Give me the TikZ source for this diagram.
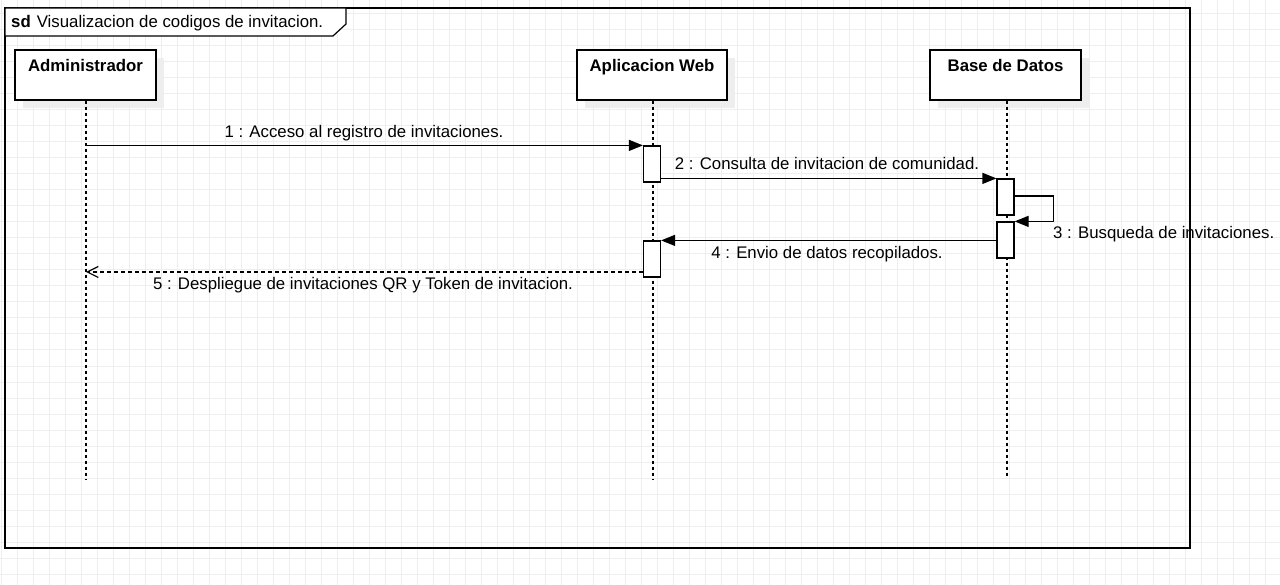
\documentclass[tikz,border=0pt]{standalone}
\usepackage{fontspec}
\setmainfont{Liberation Sans}
\usetikzlibrary{arrows.meta,shadows}
\definecolor{gridc}{HTML}{EEEEEE}
\definecolor{shadowc}{HTML}{EEEEEE}
\tikzset{
  actorbox/.style={draw, line width=1.2pt, fill=white, minimum height=50pt, inner sep=0pt,
    drop shadow={shadow xshift=8pt, shadow yshift=-8pt, fill=shadowc, opacity=1}},
  actortxt/.style={font=\fontsize{16.8}{20}\selectfont\bfseries, inner sep=0pt, anchor=base},
  actbar/.style={draw, line width=1.2pt, fill=white, minimum width=17pt, inner sep=0pt},
  lifeln/.style={line width=1.2pt, dash pattern=on 3pt off 3pt},
  msgline/.style={line width=1.2pt, -{Triangle[length=14pt,width=11pt]}},
  retline/.style={line width=1.2pt, dash pattern=on 4pt off 3pt, -{Straight Barb[length=11pt,width=11pt]}},
  msgtxt/.style={font=\fontsize{16.8}{20}\selectfont, inner sep=0pt, anchor=base},
}
\begin{document}
\begin{tikzpicture}[x=1pt,y=-1pt]
\useasboundingbox (0,0) rectangle (1280,585);
\fill[white] (0,0) rectangle (1280,585);
% grid
\foreach \gx in {1,17,...,1281} \draw[gridc, line width=1pt] (\gx,0) -- (\gx,585);
\foreach \gy in {14,30,...,590} \draw[gridc, line width=1pt] (0,\gy) -- (1280,\gy);
% frame
\draw[line width=1.2pt] (5,8) rectangle (1190,548);
\draw[line width=1.2pt, fill=white] (5,8) -- (346,8) -- (346,24) -- (333,36) -- (5,36) -- cycle;
\node[msgtxt, anchor=base west] (title) at (11,27.5) {\textbf{sd}\hspace{6pt}Visualizacion de codigos de invitacion.};
% actors
\node[actorbox, minimum width=141pt] (adm) at (85.5,75) {};
\node[actortxt] (admL) at ([yshift=-22.5pt]adm.north) {Administrador};
\node[actorbox, minimum width=150pt] (aw) at (652,75) {};
\node[actortxt] (awL) at ([yshift=-22.5pt]aw.north) {Aplicacion Web};
\node[actorbox, minimum width=151pt] (bd) at (1005.5,75) {};
\node[actortxt] (bdL) at ([yshift=-22.5pt]bd.north) {Base de Datos};
% lifelines
\coordinate (admE) at (86,480);
\coordinate (awE) at (653,480);
\coordinate (bdE) at (1007,478);
\draw[lifeln] (adm.south -| admE) -- (admE);
\draw[lifeln] (aw.south -| awE) -- (awE);
\draw[lifeln] (bd.south -| bdE) -- (bdE);
% activations
\node[actbar, minimum height=36pt] (aw1) at (652,164) {};
\node[actbar, minimum height=36pt] (aw2) at (652,259) {};
\node[actbar, minimum height=36pt] (bd1) at (1005.5,197) {};
\node[actbar, minimum height=36pt] (bd2) at (1005.5,240) {};
% messages
\draw[msgline] (admE |- aw1.north) -- (aw1.north west);
\node[msgtxt] (m1) at (364,138) {1 : Acceso al registro de invitaciones.};
\draw[msgline] (aw1.east |- bd1.north) -- (bd1.north west);
\node[msgtxt] (m2) at (827,170) {2 : Consulta de invitacion de comunidad.};
\draw[msgline] ([yshift=1pt]bd1.east) -- ++(39,0) |- (bd2.north east);
\node[msgtxt, anchor=base west] (m3) at (1053,239) {3 : Busqueda de invitaciones.};
\draw[msgline] (bd2.west |- aw2.north) -- (aw2.north east);
\node[msgtxt] (m4) at (827,259) {4 : Envio de datos recopilados.};
\path ([yshift=-13pt]aw2.west) coordinate (r5s);
\draw[retline] (r5s) -- (admE |- r5s);
\node[msgtxt] (m5) at (363,290) {5 : Despliegue de invitaciones QR y Token de invitacion.};
\end{tikzpicture}
\end{document}
